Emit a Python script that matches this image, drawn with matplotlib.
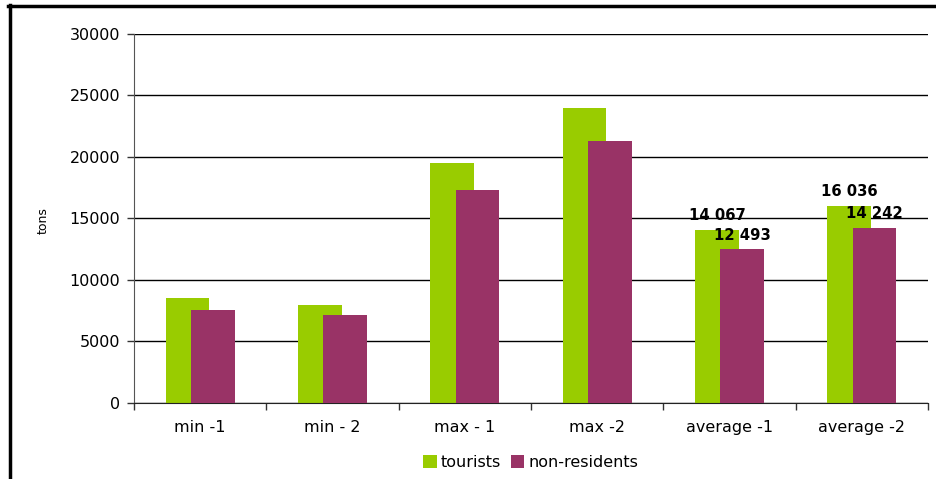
import numpy as np
import matplotlib.pyplot as plt
from matplotlib.lines import Line2D

plt.rcParams['font.family'] = ['DejaVu Sans']

categories = ['min -1', 'min - 2', 'max - 1', 'max -2', 'average -1', 'average -2']
tourists = [8550, 8000, 19500, 24000, 14067, 16036]
non_residents = [7560, 7150, 17330, 21300, 12493, 14242]
labelled = [4, 5]  # only the averages carry value labels


def fmt(v):
    return f'{v:,}'.replace(',', ' ')


def main():
    fig = plt.figure(figsize=(9.36, 4.79), dpi=100)
    ax = fig.add_axes([0.1432, 0.1587, 0.8483, 0.7704])

    x = np.arange(len(categories))
    w = 0.33
    b1 = ax.bar(x - 0.095, tourists, w, color='#99CC00', label='tourists', zorder=2)
    b2 = ax.bar(x + 0.095, non_residents, w, color='#993366', label='non-residents', zorder=3)

    for i in labelled:
        ax.annotate(fmt(tourists[i]), (x[i] - 0.095, tourists[i]), xytext=(0, 7),
                    textcoords='offset points', ha='center', va='baseline',
                    fontsize=10.7, fontweight='bold', zorder=5)
        ax.annotate(fmt(non_residents[i]), (x[i] + 0.095, non_residents[i]), xytext=(0, 7),
                    textcoords='offset points', ha='center', va='baseline',
                    fontsize=10.7, fontweight='bold', zorder=5)

    ax.set_ylim(0, 30000)
    ax.set_xlim(-0.5, len(categories) - 0.5)
    ax.set_yticks(range(0, 30001, 5000))
    ax.yaxis.grid(True, color='black', linewidth=1, zorder=1)
    ax.set_axisbelow(True)

    ax.set_xticks(x)
    ax.set_xticklabels(categories, fontsize=11.5)
    ax.set_xticks(np.arange(len(categories) + 1) - 0.5, minor=True)
    ax.tick_params(axis='x', which='major', length=0, pad=12)
    ax.tick_params(axis='x', which='minor', length=5, width=1, color='#333333')
    ax.tick_params(axis='y', length=5, width=1, labelsize=11.5, pad=5, color='#333333')

    for side in ['top', 'right']:
        ax.spines[side].set_visible(False)
    ax.spines['left'].set_color('#555555')
    ax.spines['bottom'].set_color('#222222')

    fig.text(0.046, 0.54, 'tons', rotation=90, ha='center', va='center', fontsize=9)

    fig.legend(handles=[b1, b2], loc='center', bbox_to_anchor=(0.567, 0.035),
               ncol=2, frameon=False, fontsize=11.5, handlelength=0.85, handleheight=0.85,
               handletextpad=0.25, columnspacing=0.6)

    # outer frame: thick left and top edges
    fig.add_artist(Line2D([9.5 / 936, 9.5 / 936], [0, 1 - 5 / 479], color='black',
                          linewidth=2.5, transform=fig.transFigure))
    fig.add_artist(Line2D([8 / 936, 1], [1 - 6 / 479, 1 - 6 / 479], color='black',
                          linewidth=2.5, transform=fig.transFigure))

    fig.savefig('out.png', dpi=100)


if __name__ == "__main__":
    main()
